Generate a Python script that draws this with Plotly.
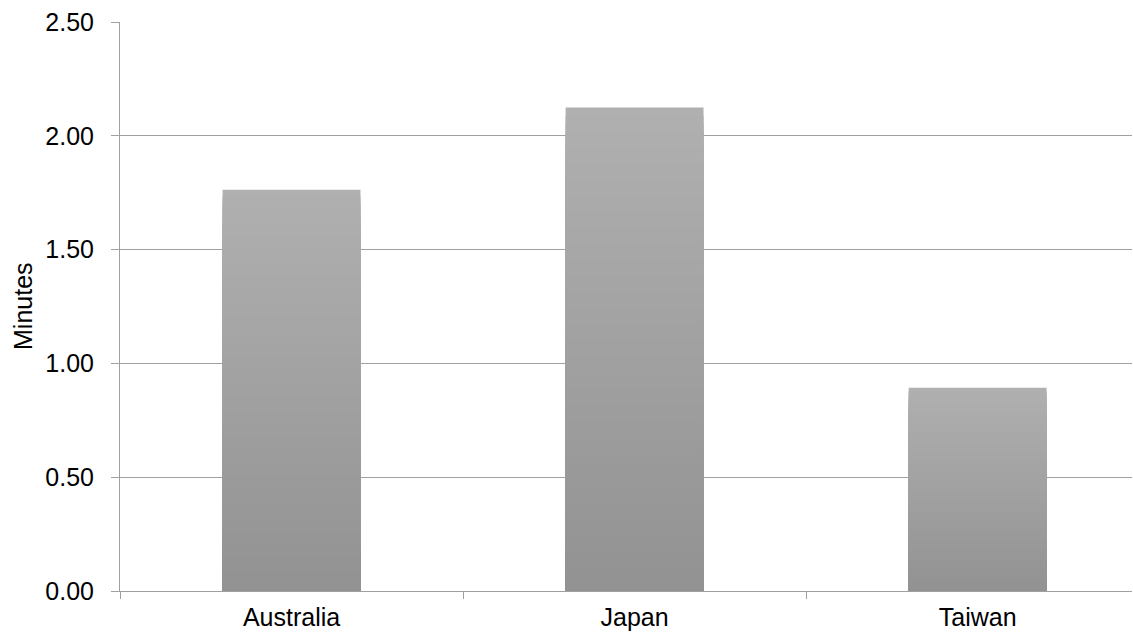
import plotly.graph_objects as go
import numpy as np

categories = ["Australia", "Japan", "Taiwan"]
minutes = [1.763, 2.124, 0.893]
y_ticks = [0.0, 0.5, 1.0, 1.5, 2.0, 2.5]

N = 60
top_rgb = np.array([176, 176, 176])
bot_rgb = np.array([146, 146, 146])

fig = go.Figure()
# Overlapping bars from the axis up, lightest/tallest first, to fake a vertical gradient
for k in range(N):
    share = (N - k) / N
    frac = (N - k - 0.5) / N
    c = bot_rgb + (top_rgb - bot_rgb) * frac
    color = "rgb(%d,%d,%d)" % tuple(np.round(c).astype(int))
    fig.add_trace(go.Bar(
        x=categories,
        y=[v * share for v in minutes],
        width=0.402,
        marker=dict(color=color, line=dict(width=0)),
        showlegend=False,
        hoverinfo="skip",
    ))

fig.add_annotation(
    text="Minutes", textangle=-90,
    xref="paper", yref="paper",
    x=(22.5 - 120) / 1012, y=0.5,
    xanchor="center", yanchor="middle", showarrow=False,
    font=dict(size=25),
)

fig.update_layout(
    width=1133, height=637,
    margin=dict(l=120, r=1, t=22, b=46),
    paper_bgcolor="white", plot_bgcolor="white",
    barmode="overlay",
    font=dict(family="Liberation Sans, Arial, sans-serif", size=25, color="black"),
    xaxis=dict(
        type="category", range=[-0.5, 2.45],
        tickson="boundaries", ticks="outside", ticklen=7, tickcolor="#a0a0a0",
        showline=True, linecolor="#a0a0a0", linewidth=1,
        showgrid=False, tickfont=dict(size=25), ticklabelstandoff=4,
    ),
    yaxis=dict(
        range=[0, 2.5], tickvals=y_ticks, tickformat=".2f",
        ticks="outside", ticklen=8, tickcolor="#a0a0a0",
        showline=True, linecolor="#a0a0a0", linewidth=1,
        showgrid=True, gridcolor="#a0a0a0", gridwidth=1,
        zeroline=False, tickfont=dict(size=25), ticklabelstandoff=12,
        automargin=False,
    ),
)
fig.write_html("out.html")
